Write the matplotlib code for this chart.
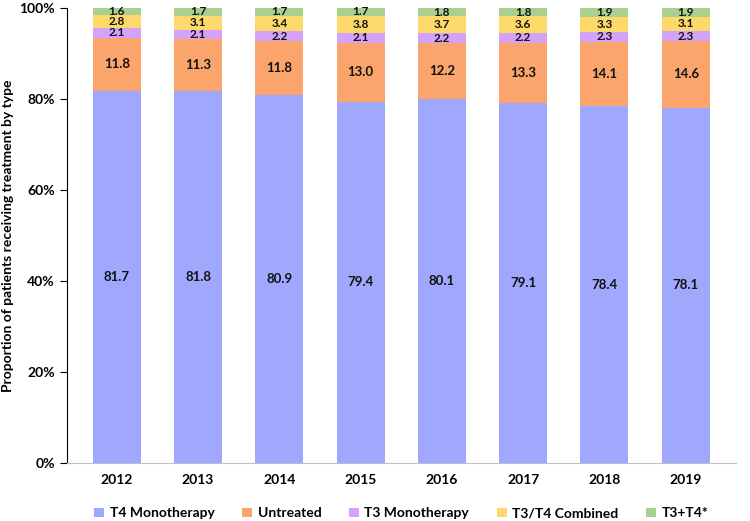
import matplotlib.pyplot as plt
from matplotlib.ticker import PercentFormatter

years = ["2012", "2013", "2014", "2015", "2016", "2017", "2018", "2019"]
t4_mono = [81.7, 81.8, 80.9, 79.4, 80.1, 79.1, 78.4, 78.1]
untreated = [11.8, 11.3, 11.8, 13.0, 12.2, 13.3, 14.1, 14.6]
t3_mono = [2.1, 2.1, 2.2, 2.1, 2.2, 2.2, 2.3, 2.3]
t3t4_comb = [2.8, 3.1, 3.4, 3.8, 3.7, 3.6, 3.3, 3.1]
t3_plus_t4 = [1.6, 1.7, 1.7, 1.7, 1.8, 1.8, 1.9, 1.9]

series = [
    ("T4 Monotherapy", t4_mono, "#9fa8fd"),
    ("Untreated", untreated, "#fba46c"),
    ("T3 Monotherapy", t3_mono, "#d5a2fa"),
    ("T3/T4 Combined", t3t4_comb, "#fdd86b"),
    ("T3+T4*", t3_plus_t4, "#a9d08e"),
]

plt.rcParams["font.family"] = ["Lato", "DejaVu Sans"]
plt.rcParams["font.weight"] = "bold"

fig = plt.figure(figsize=(7.5, 5.21), dpi=100)
ax = fig.add_axes([0.089, 0.1113, 0.892, 0.8733])

x = list(range(len(years)))
bottom = [0.0] * len(years)
for name, vals, col in series:
    bars = ax.bar(x, vals, 0.59, bottom=bottom, color=col, label=name)
    big = name in ("T4 Monotherapy", "Untreated")
    for xi, b, v in zip(x, bottom, vals):
        ax.text(xi, b + v / 2, f"{v:.1f}", ha="center", va="center",
                fontsize=9.5 if big else 8.5, fontweight="bold", color="#111111")
    bottom = [b + v for b, v in zip(bottom, vals)]

ax.set_xlim(-0.615, len(years) - 1 + 0.615)
ax.set_ylim(0, 100)
ax.set_xticks(x)
ax.set_xticklabels(years, fontsize=10, fontweight="bold")
ax.tick_params(axis="x", length=0, pad=8)
ax.set_yticks(range(0, 101, 20))
ax.yaxis.set_major_formatter(PercentFormatter(decimals=0))
ax.tick_params(axis="y", labelsize=10, length=5, color="black")
ax.set_ylabel("Proportion of patients receiving treatment by type", fontsize=10, fontweight="bold")
ax.spines["top"].set_visible(False)
ax.spines["right"].set_visible(False)
ax.spines["bottom"].set_color("#bfbfbf")

ax.legend(loc="upper center", bbox_to_anchor=(0.5, -0.07), ncol=5, frameon=False,
          fontsize=10, handlelength=0.7, handleheight=0.7, columnspacing=2.0, handletextpad=0.4)

fig.savefig("out.png", dpi=100)
